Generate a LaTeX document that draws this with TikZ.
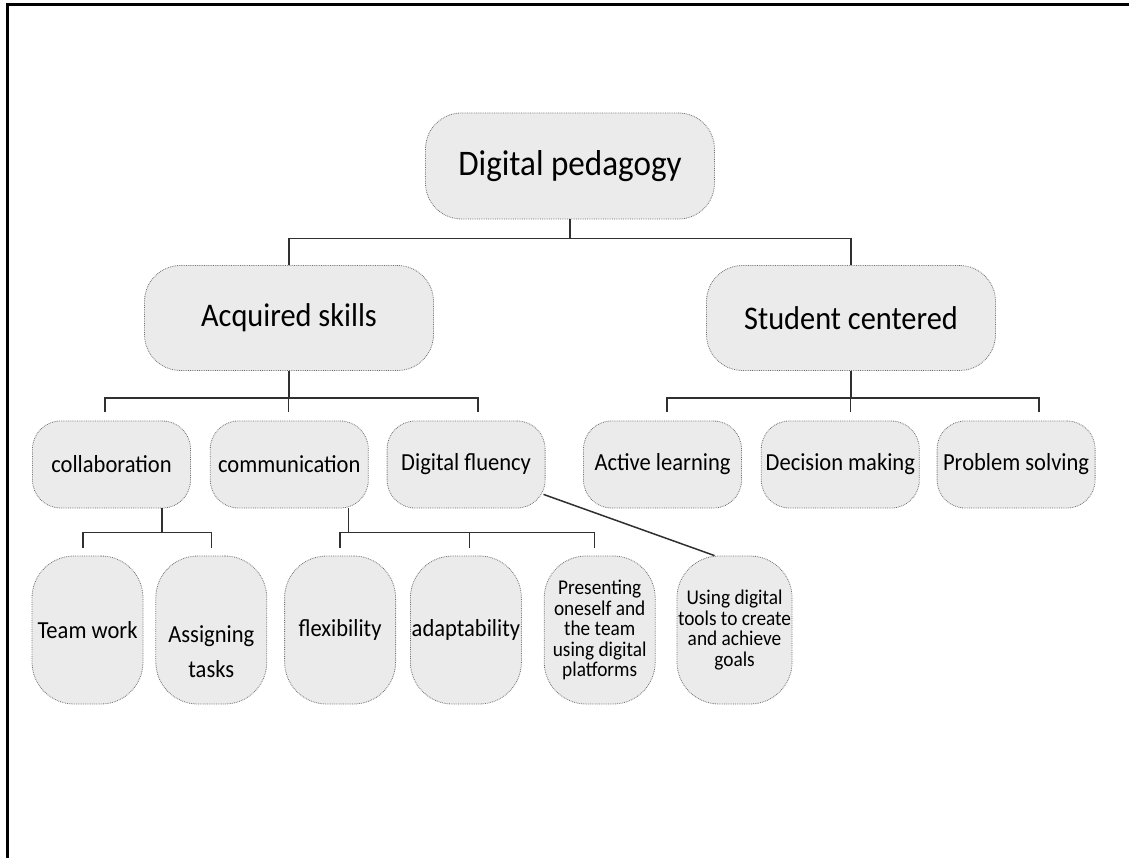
\documentclass[tikz,border=0pt]{standalone}
\usepackage{fontspec}
\setmainfont{Carlito}[FakeStretch=0.92]
\usetikzlibrary{positioning}
\definecolor{boxfill}{HTML}{EBEBEB}
\definecolor{boxline}{HTML}{6E6E6E}
\definecolor{linkline}{HTML}{303030}
\tikzset{
        box/.style = {draw=boxline, densely dotted, line width=0.8pt, fill=boxfill, rectangle, inner sep=1pt, align=center},
        rootbox/.style = {box, rounded corners=36pt, minimum width=289pt, minimum height=106pt, font=\fontsize{36}{40}\selectfont},
        mainbox/.style = {box, rounded corners=36pt, minimum width=289pt, minimum height=105pt, font=\fontsize{33}{38}\selectfont},
        skillbox/.style = {box, rounded corners=28pt, minimum width=158pt, minimum height=87pt, font=\fontsize{24.5}{28}\selectfont},
        leafbox/.style = {box, rounded corners=42pt, minimum width=111pt, minimum height=148pt, font=\fontsize{24.5}{35}\selectfont},
        smallleaf/.style = {leafbox, font=\fontsize{21}{20.5}\selectfont},
        link/.style = {draw=linkline, line width=1.5pt},
    }
\begin{document}
\begin{tikzpicture}[x=1pt, y=-1pt]
    \useasboundingbox (0,0) rectangle (1129,858);
    % frame
    \draw [line width=3pt] (7,858) -- (7,5) -- (1129,5);

    \node [rootbox] (root) at (570,166) {Digital pedagogy};
    \node [mainbox] (skills) at (289,318) {Acquired skills};
    \node [mainbox] (student) at (851,318) {Student centered};

    \node [skillbox] (collab) at (111.5,464.5) {collaboration};
    \node [skillbox, right=19pt of collab] (comm) {communication};
    \node [skillbox, right=18pt of comm] (fluency) {Digital fluency};
    \node [skillbox] (active) at (662.5,464.5) {Active learning};
    \node [skillbox, right=19pt of active] (decision) {Decision making};
    \node [skillbox, right=17pt of decision] (problem) {Problem solving};

    \node [leafbox] (team) at (87.5,630) {Team work};
    \node [leafbox, right=12pt of team] (assign) {\strut\\Assigning\\tasks};
    \node [leafbox, right=17pt of assign] (flex) {flexibility};
    \node [leafbox, right=14pt of flex] (adapt) {adaptability};
    \node [smallleaf, right=22pt of adapt] (present) {Presenting\\oneself and\\the team\\using digital\\platforms};
    \node [smallleaf, right=21pt of present] (tools) {Using digital\\tools to create\\and achieve\\goals};

    % top level
    \draw [link] (root.south) -- ++(0,19) -| (skills.north);
    \draw [link] (root.south) -- ++(0,19) -| (student.north);

    % acquired skills
    \draw [link] (skills.south) -- ++(0,27) -| ([xshift=-6.5pt,yshift=9pt]collab.north);
    \draw [link] (skills.south) -- ++(0,27) -| ([xshift=-1pt,yshift=9pt]comm.north);
    \draw [link] (skills.south) -- ++(0,27) -| ([xshift=12pt,yshift=9pt]fluency.north);

    % student centered
    \draw [link] (student.south) -- ++(0,27) -| ([xshift=4.5pt,yshift=9pt]active.north);
    \draw [link] (student.south) -- ++(0,27) -| ([xshift=10pt,yshift=9pt]decision.north);
    \draw [link] (student.south) -- ++(0,27) -| ([xshift=23pt,yshift=9pt]problem.north);

    % leaves
    \draw [link] ([xshift=50.5pt]collab.south) -- ++(0,24) -| ([xshift=-4.5pt,yshift=8pt]team.north);
    \draw [link] ([xshift=50.5pt]collab.south) -- ++(0,24) -| ([yshift=8pt]assign.north);
    \draw [link] ([xshift=59pt]comm.south) -- ++(0,24) -| ([yshift=8pt]flex.north);
    \draw [link] ([xshift=59pt]comm.south) -- ++(0,24) -| ([xshift=3.5pt,yshift=8pt]adapt.north);
    \draw [link] ([xshift=59pt]comm.south) -- ++(0,24) -| ([xshift=-5pt,yshift=8pt]present.north);
    \draw [link] ([xshift=-2pt,yshift=14pt]fluency.south east) -- ([xshift=-20pt]tools.north);

\end{tikzpicture}
\end{document}
